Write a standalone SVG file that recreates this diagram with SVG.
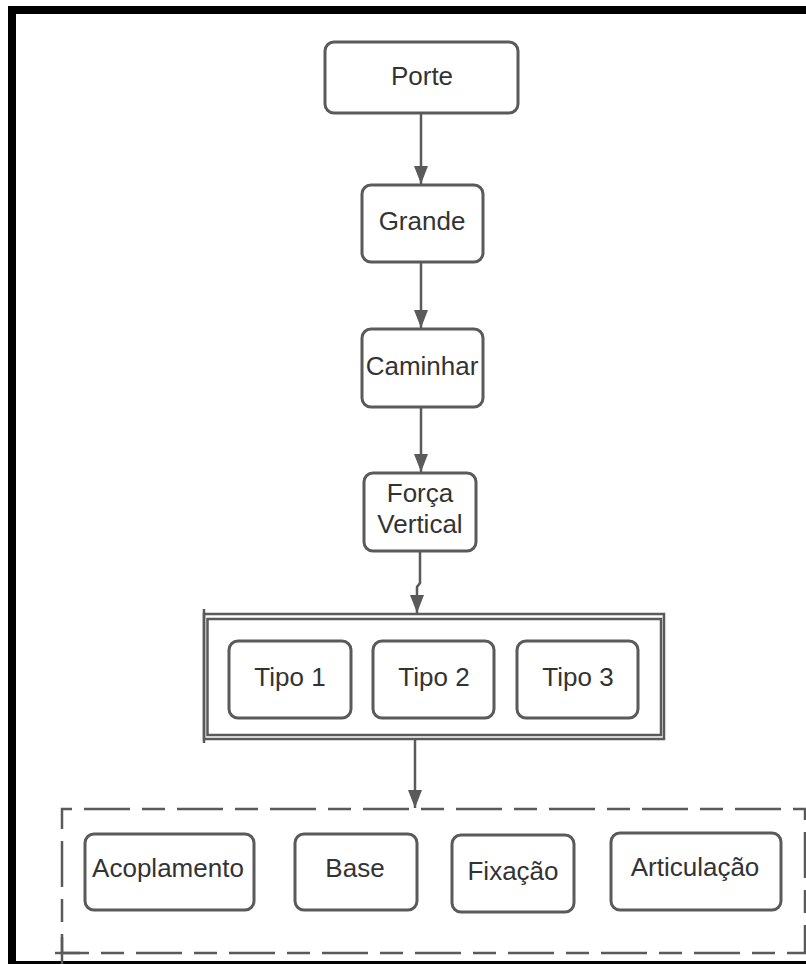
<svg xmlns="http://www.w3.org/2000/svg" width="806" height="964" viewBox="0 0 806 964">
  <defs>
    <style>
      .box { fill: #ffffff; stroke: #5a5a5a; stroke-width: 3; }
      .lbl { font-family: "Liberation Sans", Arial, sans-serif; font-size: 26px; fill: #333333; text-anchor: middle; dominant-baseline: central; }
      .conn { fill: none; stroke: #5a5a5a; stroke-width: 2.5; }
      .frame { fill: #000000; }
      .group2 { fill: none; stroke: #5a5a5a; stroke-width: 2.5; }
      .dash { fill: none; stroke: #5a5a5a; stroke-width: 2.5; stroke-dasharray: 46 12 23 12; stroke-dashoffset: 71; }
    </style>
    <marker id="arrow" viewBox="0 0 18 14" refX="18" refY="7" markerWidth="18" markerHeight="14" markerUnits="userSpaceOnUse" orient="auto">
      <path d="M0,0 L18,7 L0,14 Z" fill="#5a5a5a"/>
    </marker>
  </defs>

  <rect width="806" height="964" fill="#ffffff"/>

  <!-- outer frame -->
  <g id="frame">
    <rect class="frame" x="8" y="6" width="798" height="8"/>
    <rect class="frame" x="8" y="6" width="8" height="958"/>
    <rect class="frame" x="8" y="961" width="798" height="3"/>
  </g>

  <!-- containers -->
  <g id="tipos-container">
    <rect class="group2" x="204" y="614" width="460" height="125"/>
    <rect class="group2" x="207.5" y="619" width="453.5" height="116"/>
    <line class="group2" x1="204" y1="609" x2="204" y2="743"/>
  </g>
  <g id="partes-container">
    <path class="dash" d="M62,809 H805 V953 H62 Z"/>
    <line class="group2" x1="62" y1="937" x2="62" y2="964"/>
    <line class="group2" x1="55" y1="953" x2="80" y2="953"/>
  </g>

  <!-- connectors -->
  <g id="connectors">
    <line class="conn" x1="421" y1="113" x2="421" y2="184" marker-end="url(#arrow)"/>
    <line class="conn" x1="421" y1="262" x2="421" y2="328" marker-end="url(#arrow)"/>
    <line class="conn" x1="421" y1="407" x2="421" y2="472" marker-end="url(#arrow)"/>
    <path class="conn" d="M420,551 V583 L417,587 V613" marker-end="url(#arrow)"/>
    <line class="conn" x1="415" y1="739" x2="415" y2="808" marker-end="url(#arrow)"/>
  </g>

  <!-- nodes -->
  <g id="porte">
    <rect class="box" x="325" y="42" width="193" height="71" rx="9"/>
    <text class="lbl" x="422" y="76">Porte</text>
  </g>
  <g id="grande">
    <rect class="box" x="362" y="185" width="121" height="77" rx="9"/>
    <text class="lbl" x="422" y="221">Grande</text>
  </g>
  <g id="caminhar">
    <rect class="box" x="362" y="329" width="121" height="78" rx="9"/>
    <text class="lbl" x="422" y="366">Caminhar</text>
  </g>
  <g id="forca-vertical">
    <rect class="box" x="364" y="473" width="112" height="78" rx="9"/>
    <text class="lbl" x="420" y="493">Força</text>
    <text class="lbl" x="420" y="524">Vertical</text>
  </g>
  <g id="tipo1">
    <rect class="box" x="229" y="641" width="122" height="77" rx="9"/>
    <text class="lbl" x="290" y="677">Tipo 1</text>
  </g>
  <g id="tipo2">
    <rect class="box" x="373" y="641" width="121" height="77" rx="9"/>
    <text class="lbl" x="434" y="677">Tipo 2</text>
  </g>
  <g id="tipo3">
    <rect class="box" x="517" y="641" width="121" height="77" rx="9"/>
    <text class="lbl" x="578" y="677">Tipo 3</text>
  </g>
  <g id="acoplamento">
    <rect class="box" x="85" y="834" width="169" height="76" rx="9"/>
    <text class="lbl" x="168" y="868">Acoplamento</text>
  </g>
  <g id="base">
    <rect class="box" x="295" y="834" width="122" height="76" rx="9"/>
    <text class="lbl" x="355" y="868">Base</text>
  </g>
  <g id="fixacao">
    <rect class="box" x="452" y="835" width="122" height="77" rx="9"/>
    <text class="lbl" x="513" y="871">Fixação</text>
  </g>
  <g id="articulacao">
    <rect class="box" x="611" y="833" width="170" height="77" rx="9"/>
    <text class="lbl" x="695" y="867">Articulação</text>
  </g>
</svg>
